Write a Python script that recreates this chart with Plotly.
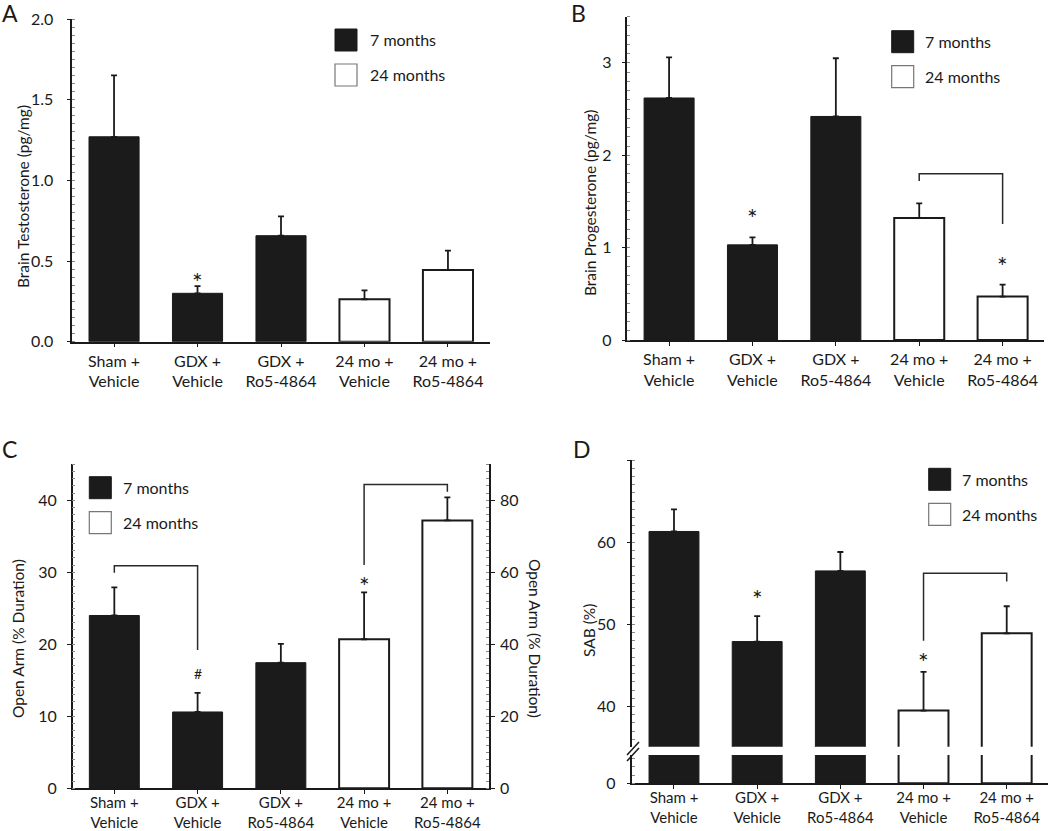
import plotly.graph_objects as go

# ---------------- data ----------------
categories = ["Sham +<br>Vehicle", "GDX +<br>Vehicle", "GDX +<br>Ro5-4864",
              "24 mo +<br>Vehicle", "24 mo +<br>Ro5-4864"]
positions = [0, 1, 2, 3, 4]
group_7mo = [0, 1, 2]      # indices of 7-month groups
group_24mo = [3, 4]        # indices of 24-month groups
legend_labels = ["7 months", "24 months"]

testosterone = [1.27, 0.30, 0.657, 0.263, 0.444]
testosterone_err = [0.38, 0.045, 0.12, 0.055, 0.12]
progesterone = [2.62, 1.03, 2.42, 1.32, 0.47]
progesterone_err = [0.44, 0.08, 0.63, 0.16, 0.13]
open_arm = [24.0, 10.6, 17.45, 20.7, 37.2]
open_arm_err = [3.9, 2.65, 2.6, 6.5, 3.2]
sab = [61.3, 47.9, 56.5, 39.5, 48.9]
sab_err = [2.7, 3.1, 2.3, 4.7, 3.3]

# significance marks: (bar index, y value, symbol)
marks_A = [(1, 0.41, "*")]
marks_B = [(1, 1.39, "*"), (4, 0.87, "*")]
marks_C = [(1, 15.9, "#"), (3, 28.9, "*")]
marks_D = [(1, 53.8, "*"), (3, 46.2, "*")]

# brackets: (left idx, right idx, left foot y, top y, right foot y)
brackets_B = [(3, 4, 1.72, 1.80, 1.255)]
brackets_C = [(0, 1, 29.95, 30.9, 19.2), (3, 4, 31.0, 42.2, 41.2)]
brackets_D = [(3, 4, 48.0, 56.2, 55.2)]

# ---------------- styling helpers ----------------
W, H = 1050, 831
FONT = "Lato"
INK = "#1a1a1a"
BLACK_FILL = "#1b1b1b"


def fx(px):
    return px / W


def fy(py):
    return 1 - py / H


fig = go.Figure()


def add_bars(xa, ya, values, errs, show_err=True):
    for idxs, fill, lw in ((group_7mo, BLACK_FILL, 1), (group_24mo, "white", 2)):
        ev = dict(type="data", symmetric=False,
                  array=[errs[i] for i in idxs], arrayminus=[0] * len(idxs),
                  color=INK, thickness=1.8, width=3) if show_err else None
        fig.add_trace(go.Bar(
            x=[positions[i] for i in idxs], y=[values[i] for i in idxs],
            width=0.6, marker=dict(color=fill, line=dict(color=INK, width=lw)),
            error_y=ev, xaxis=xa, yaxis=ya, showlegend=False, hoverinfo="skip"))


def add_marks(xa, ya, marks):
    for i, yv, sym in marks:
        fig.add_annotation(x=positions[i], y=yv, xref=xa, yref=ya, text=sym,
                           showarrow=False, yanchor="middle",
                           yshift=-6 if sym == "*" else 0,
                           font=dict(family=FONT, size=25 if sym == "*" else 14, color=INK))


def add_brackets(xa, ya, brs):
    for li, ri, yl, yt, yr in brs:
        fig.add_trace(go.Scatter(
            x=[positions[li], positions[li], positions[ri], positions[ri]],
            y=[yl, yt, yt, yr], mode="lines", line=dict(color="#2a2a2a", width=1.5),
            xaxis=xa, yaxis=ya, showlegend=False, hoverinfo="skip"))


def add_legend(bx, by_top, tx):
    fig.add_shape(type="rect", xref="paper", yref="paper",
                  x0=fx(bx), x1=fx(bx + 22), y0=fy(by_top + 22), y1=fy(by_top),
                  fillcolor=BLACK_FILL, line=dict(color=INK, width=1))
    fig.add_shape(type="rect", xref="paper", yref="paper",
                  x0=fx(bx), x1=fx(bx + 22), y0=fy(by_top + 57), y1=fy(by_top + 35),
                  fillcolor="white", line=dict(color="#777777", width=1.2))
    for k, lab in enumerate(legend_labels):
        fig.add_annotation(xref="paper", yref="paper", x=fx(tx), y=fy(by_top + 11 + 35 * k),
                           text=lab, showarrow=False, xanchor="left", yanchor="middle",
                           font=dict(family=FONT, size=16, color=INK))


def ytitle(px, py, text, angle=-90):
    fig.add_annotation(xref="paper", yref="paper", x=fx(px), y=fy(py), text=text,
                       textangle=angle, showarrow=False, xanchor="center", yanchor="middle",
                       font=dict(family=FONT, size=15.5, color=INK))


def letter(px, py, text):
    fig.add_annotation(xref="paper", yref="paper", x=fx(px), y=fy(py), text=text,
                       showarrow=False, xanchor="left", yanchor="middle",
                       font=dict(family=FONT, size=23, color=INK))


axis_common = dict(showline=True, linecolor=INK, linewidth=1.5, ticks="outside",
                   tickcolor=INK, ticklen=4, tickwidth=1.3, showgrid=False, zeroline=False,
                   automargin=False, fixedrange=True,
                   tickfont=dict(family=FONT, size=16, color=INK))


def xaxis_cfg(x0, x1, anchor, fsize=16, standoff=0):
    return dict(axis_common, domain=[fx(x0), fx(x1)], range=[-0.5, 4.5], anchor=anchor,
                tickvals=positions, ticktext=categories,
                tickfont=dict(family=FONT, size=fsize, color=INK),
                ticklabelstandoff=standoff)


def yaxis_cfg(y_bottom, y_top, rng, anchor, tickvals, ticktext, minor_dtick,
              standoff=0, **kw):
    d = dict(axis_common, domain=[fy(y_bottom), fy(y_top)], range=rng, anchor=anchor,
             tickvals=tickvals, ticktext=ticktext, ticklabelstandoff=standoff,
             minor=dict(ticks="inside", ticklen=3, tickcolor="#888888", tickwidth=1,
                        dtick=minor_dtick, showgrid=False))
    d.update(kw)
    return d


# ---- Panel A ----
add_bars("x", "y", testosterone, testosterone_err)
add_marks("x", "y", marks_A)
add_legend(335, 29, 368)
ytitle(23, 197, "Brain Testosterone (pg/mg)")
letter(0, 13, "A")

# ---- Panel B ----
add_bars("x2", "y2", progesterone, progesterone_err)
add_marks("x2", "y2", marks_B)
add_brackets("x2", "y2", brackets_B)
add_legend(891.7, 30.7, 923)
ytitle(590, 203, "Brain Progesterone (pg/mg)")
letter(569, 13, "B")

# ---- Panel C ----
add_bars("x3", "y3", open_arm, open_arm_err)
add_marks("x3", "y3", marks_C)
add_brackets("x3", "y3", brackets_C)
fig.add_trace(go.Scatter(x=[positions[0]], y=[0], xaxis="x3", yaxis="y6",
                         mode="markers", marker=dict(opacity=0), showlegend=False,
                         hoverinfo="skip"))
add_legend(89.3, 476.7, 121)
ytitle(18, 639, "Open Arm (% Duration)")
ytitle(535, 638, "Open Arm (% Duration)", angle=90)
letter(0, 449, "C")

# ---- Panel D (broken axis) ----
add_bars("x4", "y4", sab, sab_err)
add_bars("x4", "y5", sab, sab_err, show_err=False)
add_marks("x4", "y4", marks_D)
add_brackets("x4", "y4", brackets_D)
add_legend(928.7, 468.3, 960)
ytitle(589, 631, "SAB (%)")
letter(571, 449, "D")
for dy in (0, 6):
    fig.add_shape(type="line", xref="paper", yref="paper",
                  x0=fx(627), y0=fy(755 + dy), x1=fx(639), y1=fy(742 + dy),
                  line=dict(color=INK, width=1.5))

fig.update_layout(
    width=W, height=H, margin=dict(l=0, r=0, t=0, b=0, pad=0),
    paper_bgcolor="white", plot_bgcolor="white", barmode="overlay",
    showlegend=False,
    xaxis=xaxis_cfg(72.3, 489.7, "y"),
    yaxis=yaxis_cfg(341.7, 19, [0, 2.0], "x", [0, 0.5, 1.0, 1.5, 2.0],
                    ["0.0", "0.5", "1.0", "1.5", "2.0"], 0.05, standoff=10),
    xaxis2=xaxis_cfg(627.4, 1044.3, "y2"),
    yaxis2=yaxis_cfg(340, 16.7, [0, 3.5], "x2", [0, 1, 2, 3], ["0", "1", "2", "3"], 0.1,
                     standoff=7),
    xaxis3=xaxis_cfg(72.7, 489, "y3", fsize=15, standoff=-4),
    yaxis3=yaxis_cfg(788.3, 464.3, [0, 45], "x3", [0, 10, 20, 30, 40],
                     ["0", "10", "20", "30", "40"], 1, standoff=7),
    yaxis6=yaxis_cfg(788.3, 464.3, [0, 90], "x3", [0, 20, 40, 60, 80],
                     ["0", "20", "40", "60", "80"], 2, standoff=2,
                     overlaying="y3", side="right"),
    xaxis4=xaxis_cfg(632.4, 1048.3, "y5", fsize=15, standoff=-4),
    yaxis4=yaxis_cfg(746.7, 460, [35.1, 70], "x4", [40, 50, 60, 70],
                     ["40", "50", "60", ""], 1, standoff=8),
    yaxis5=yaxis_cfg(783.3, 755, [0, 3.44], "x4", [0], ["0"], 1, standoff=8),
)

fig.write_html("out.html", config={"displayModeBar": False},
               post_script="document.body.style.margin='0px';")
